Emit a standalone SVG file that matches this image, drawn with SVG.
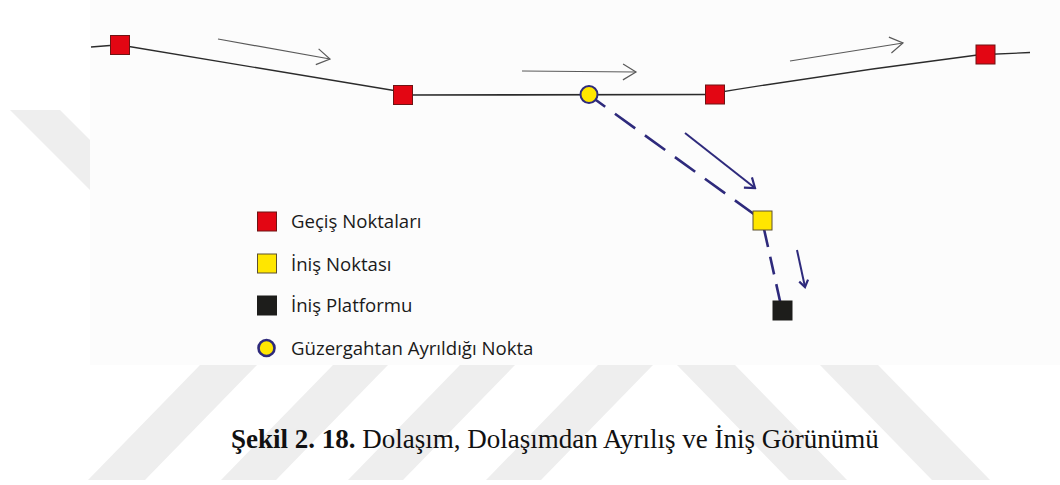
<svg xmlns="http://www.w3.org/2000/svg" width="1060" height="485" viewBox="0 0 1060 485">
<defs>
<style>
.wm{fill:#eeeeee}
.route{fill:none;stroke:#2b2b2b;stroke-width:1.3}
.flow{fill:none;stroke:#5a5a5a;stroke-width:1.2}
.dash{fill:none;stroke:#2e2a7c;stroke-width:2.6}
.barrow{fill:none;stroke:#2e2a7c;stroke-width:2}
.red{fill:#e30613;stroke:#6e1414;stroke-width:1}
.yel{fill:#ffe600;stroke:#5c5030;stroke-width:1}
.blk{fill:#1d1d1b;stroke:#1d1d1b;stroke-width:1}
.circ{fill:#ffe600;stroke:#2e2a7c;stroke-width:2}
.leg{font-family:"Open Sans","Liberation Sans",sans-serif;font-size:18.6px;fill:#1a1a1a}
.cap{font-family:"Liberation Serif","Times New Roman",serif;font-size:27px;fill:#111}
</style>
<marker id="grayHead" markerUnits="userSpaceOnUse" viewBox="-15 -10 17 20" refX="0" refY="0" markerWidth="17" markerHeight="20" orient="auto">
<path d="M-13,-8 L0,0 L-13,8" fill="none" stroke="#5a5a5a" stroke-width="1.2"/>
</marker>
<marker id="blueHead" markerUnits="userSpaceOnUse" viewBox="-12 -8 14 16" refX="0" refY="0" markerWidth="14" markerHeight="16" orient="auto">
<path d="M-9,-6.5 L0,0 L-9,6.5" fill="none" stroke="#2e2a7c" stroke-width="2.2"/>
</marker>
<marker id="blueHeadS" markerUnits="userSpaceOnUse" viewBox="-10 -7 12 14" refX="0" refY="0" markerWidth="12" markerHeight="14" orient="auto">
<path d="M-6.5,-4.5 L0,0 L-6.5,4.5" fill="none" stroke="#2e2a7c" stroke-width="2.2"/>
</marker>
</defs>
<rect width="1060" height="485" fill="#ffffff"/>
<g id="watermark">
<polygon class="wm" points="10,110 60,110 90,140 90,190"/>
<polygon class="wm" points="200,365 257,365 145,480 88,480"/>
<polygon class="wm" points="333,365 388,365 276,480 221,480"/>
<polygon class="wm" points="460,365 515,365 403,480 348,480"/>
<polygon class="wm" points="598,365 653,365 541,480 486,480"/>
<polygon class="wm" points="677,365 735,365 847,480 789,480"/>
<polygon class="wm" points="820,365 878,365 990,480 932,480"/>
</g>
<rect id="figure-bg" x="90" y="0" width="970" height="365" fill="#fcfcfc"/>
<g id="connectors">
<line class="route" x1="91" y1="47" x2="110" y2="45.5"/>
<line class="route" x1="120" y1="45" x2="403" y2="92"/>
<line class="route" x1="403" y1="95" x2="715" y2="94.5" style="stroke-width:1.7"/>
<path class="route" d="M715,93 Q850,71 985,54"/>
<line class="route" x1="985" y1="54.5" x2="1030" y2="52.5"/>
<line class="dash" x1="589" y1="95" x2="762" y2="220" stroke-dasharray="25 12" stroke-dashoffset="5"/>
<line class="dash" x1="762" y1="220" x2="782" y2="310" stroke-dasharray="18 10" stroke-dashoffset="18.3"/>
<line class="flow" x1="218" y1="39" x2="330" y2="59" marker-end="url(#grayHead)"/>
<line class="flow" x1="522" y1="71" x2="636" y2="72" marker-end="url(#grayHead)"/>
<line class="flow" x1="790" y1="61" x2="903" y2="43" marker-end="url(#grayHead)"/>
<line class="barrow" x1="685" y1="133" x2="755" y2="188" marker-end="url(#blueHead)"/>
<line class="barrow" x1="797" y1="250" x2="805" y2="287" marker-end="url(#blueHeadS)"/>
</g>
<g id="wp1"><rect class="red" x="110.5" y="35.5" width="19" height="19"/></g>
<g id="wp2"><rect class="red" x="393.5" y="85.5" width="19" height="19"/></g>
<g id="wp3"><rect class="red" x="705.5" y="85" width="19" height="19"/></g>
<g id="wp4"><rect class="red" x="976" y="45" width="19" height="19"/></g>
<g id="exit-point"><circle class="circ" cx="589" cy="94.5" r="8.5"/></g>
<g id="landing-point"><rect class="yel" x="753" y="211" width="19" height="19"/></g>
<g id="landing-platform"><rect class="blk" x="773" y="301" width="19" height="19"/></g>
<g id="legend">
<rect class="red" x="257.5" y="212" width="19" height="19"/>
<text class="leg" x="291" y="228">Geçiş Noktaları</text>
<rect class="yel" x="257.5" y="254" width="19" height="19"/>
<text class="leg" x="291" y="271">İniş Noktası</text>
<rect class="blk" x="257.5" y="296" width="19" height="19"/>
<text class="leg" x="291" y="312">İniş Platformu</text>
<circle class="circ" cx="266.5" cy="348" r="8" style="stroke-width:2.6"/>
<text class="leg" x="291" y="355">Güzergahtan Ayrıldığı Nokta</text>
</g>
<g id="caption">
<text class="cap" x="231" y="448"><tspan font-weight="bold">Şekil 2. 18.</tspan> Dolaşım, Dolaşımdan Ayrılış ve İniş Görünümü</text>
</g>
</svg>
